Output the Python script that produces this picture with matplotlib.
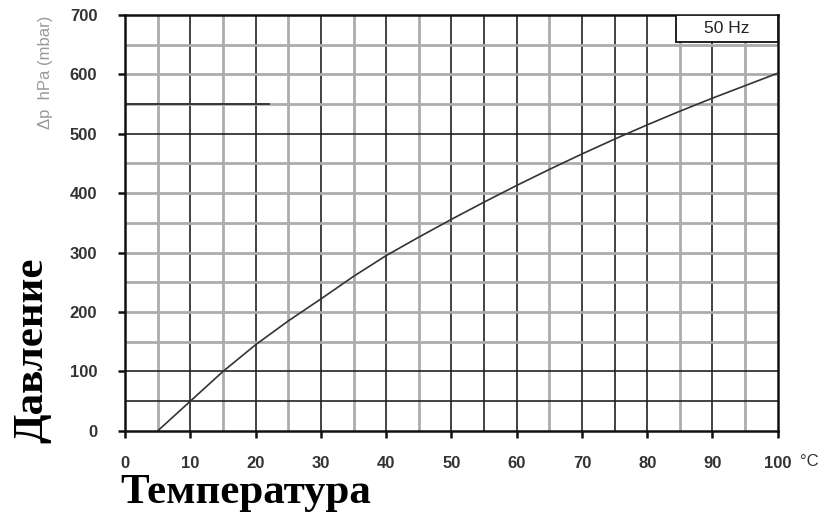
import matplotlib
matplotlib.use("Agg")
import matplotlib.pyplot as plt
from matplotlib.patches import Rectangle

# Curve
temperature = [5, 10, 15, 20, 25, 30, 35, 40, 45, 50, 55, 60, 65, 70, 75, 80, 85, 90, 95, 100]
pressure = [0, 50, 100, 145, 185, 222, 260, 295, 326, 356, 385, 413, 440, 466, 491, 515, 538, 560, 581, 602]

xTicks = [0, 10, 20, 30, 40, 50, 60, 70, 80, 90, 100]
yTicks = [0, 100, 200, 300, 400, 500, 600, 700]

# Grid lines: some are dark, some gray (as in the scan)
xGridDark = [10, 20, 30, 40, 50, 55, 60, 70, 75, 80, 90]
xGridGray = [5, 15, 25, 35, 45, 65, 85, 95]
yGridDark = [50, 100, 500]
yGridGray = [150, 200, 250, 300, 350, 400, 450, 600, 650]

fig = plt.figure(figsize=(8.23, 5.16), dpi=100)
ax = fig.add_axes([0.152, 0.165, 0.793, 0.806])

for x in xGridGray:
    ax.axvline(x, color="#acacac", lw=2.0, zorder=1)
for x in xGridDark:
    ax.axvline(x, color="#222222", lw=1.2, zorder=1)
for y in yGridGray:
    ax.axhline(y, color="#acacac", lw=2.0, zorder=1)
for y in yGridDark:
    ax.axhline(y, color="#222222", lw=1.2, zorder=1)
# partial dark line at 550
ax.axhline(550, color="#acacac", lw=2.0, zorder=1)
ax.plot([0, 22], [550, 550], color="#222222", lw=1.2, zorder=1)

ax.plot(temperature, pressure, color="#333333", lw=1.2, zorder=3)

ax.set_xlim(0, 100)
ax.set_ylim(0, 700)
ax.set_xticks(xTicks)
ax.set_yticks(yTicks)
ax.set_xticklabels([str(t) for t in xTicks])
for spine in ax.spines.values():
    spine.set_linewidth(1.8)
    spine.set_color("#111111")

ax.tick_params(axis="both", direction="out", length=5, width=1.8, color="#111111",
               labelsize=12, labelcolor="#333333")
for lbl in ax.get_xticklabels() + ax.get_yticklabels():
    lbl.set_fontfamily("Liberation Sans")
    lbl.set_fontweight("bold")
ax.tick_params(axis="y", pad=15)
ax.tick_params(axis="x", pad=13)

ax.text(103.4, -52, "°C", fontsize=12, fontfamily="Liberation Sans", color="#333333",
        ha="left", va="center", clip_on=False)

# 50 Hz label box
ax.add_patch(Rectangle((84.4, 654), 15.6, 46, facecolor="white", edgecolor="#111111",
                       lw=1.3, zorder=4))
ax.text(92.2, 677, "50 Hz", fontsize=12.5, fontfamily="Liberation Sans", color="#222222",
        ha="center", va="center", zorder=5)

fig.text(0.055, 0.97, "Δp  hPa (mbar)", rotation=90, ha="center", va="top",
         fontsize=12, fontfamily="Liberation Sans", color="#999999")
fig.text(0.039, 0.322, "Давление", rotation=90, ha="center", va="center",
         fontsize=31, fontfamily="Liberation Serif", fontweight="bold", color="black")
fig.text(0.146, 0.025, "Температура", ha="left", va="baseline",
         fontsize=31, fontfamily="Liberation Serif", fontweight="bold", color="black")

fig.savefig("out.png", dpi=100)
